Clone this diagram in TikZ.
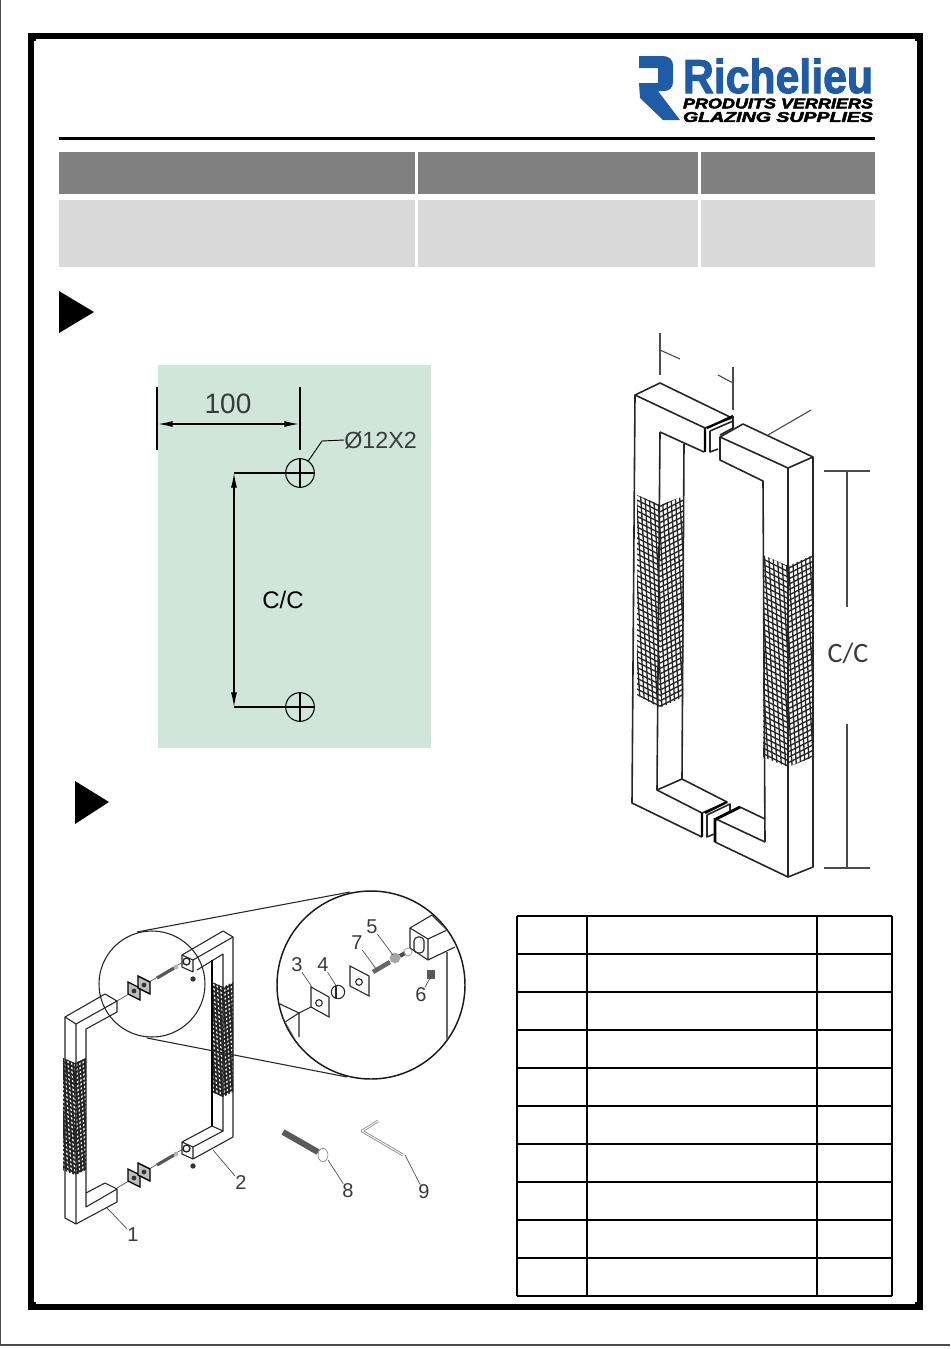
\documentclass[tikz,border=0pt]{standalone}
\usepackage{fontspec}
\setmainfont{Liberation Sans}
\newfontfamily\carlitofont{Carlito}
\newfontfamily\logofont[FakeBold=2.2]{Liberation Sans Bold}
\newfontfamily\logotagfont[FakeBold=3]{Liberation Sans Bold Italic}
\usetikzlibrary{arrows.meta}

\definecolor{headgray}{HTML}{808080}
\definecolor{cellgray}{HTML}{D9D9D9}
\definecolor{platecolor}{HTML}{CFE6D8}
\definecolor{logoblue}{HTML}{1F5CA8}
\definecolor{labelgray}{HTML}{3A3A3A}

\tikzset{
  frameline/.style={line width=3.8pt},
  dimline/.style={line width=0.85pt,black!70},
  cad/.style={line width=1.2pt,black!85,line join=round},
  thin cad/.style={line width=0.8pt,black!85,line join=round},
  leader/.style={line width=0.5pt,black!70},
  numlabel/.style={inner sep=0pt,text=labelgray,font=\fontsize{15}{17}\selectfont},
  dimarrow/.style={line width=0.9pt,{Latex[length=11pt,width=4.5pt]}-{Latex[length=11pt,width=4.5pt]}},
  holemark/.style={draw,circle,line width=0.8pt,minimum size=21.5pt,inner sep=0pt},
}

% brick mesh on one grip face: #1 outline, #2-#5 box, #6 spacing, #7 line width, #8 slope
\newcommand{\gripmesh}[8]{
  \begin{scope}
  \clip #1;
  \fill[white] (#2,#4) rectangle (#3,#5);
  \pgfmathsetmacro{\mstart}{#4-0.5*(#3-#2)}
  \pgfmathsetmacro{\mnext}{\mstart+#6}
  \pgfmathsetmacro{\mstop}{#5+0.5*(#3-#2)}
  \foreach \yy in {\mstart,\mnext,...,\mstop}
    \draw[black!85,line width=#7] (#2,\yy) -- ++({#3-#2},{#8*(#3-#2)});
  \pgfmathsetmacro{\mstart}{#2-0.06*(#5-#4)}
  \pgfmathsetmacro{\mnext}{\mstart+0.8*#6}
  \foreach \xx in {\mstart,\mnext,...,#3}
    \draw[black!85,line width=#7] (\xx,#4) -- ++({0.06*(#5-#4)},{#5-#4});
  \end{scope}
}

\begin{document}
\begin{tikzpicture}[x=0.75pt,y=-0.75pt]
\useasboundingbox (0,0) rectangle (950,1349);
\fill[white] (0,0) rectangle (950,1349);

% frame
\draw[line width=0.8pt,black!70] (0.5,0) -- (0.5,1345) -- (950,1345);
\draw[frameline] (31,36) rectangle (920,1307);
\fill (28,33) rectangle (36,41);
\fill (915,33) rectangle (923,41);
\fill (28,1302) rectangle (36,1310);
\fill (915,1302) rectangle (923,1310);

% logo
\fill[logoblue] (639,56) -- (663,56) .. controls (669,56) and (673,60) .. (673,65)
  -- (673,82) .. controls (673,88) and (669,91) .. (664,91) -- (658,91)
  -- (680,120) -- (663,120) -- (640,98) -- (639,83) -- (658,83) -- (658,68) -- (639,68) -- cycle;
\node[inner sep=0pt,text=logoblue] (logoname) at (778,76)
  {\resizebox{142.5pt}{26pt}{\logofont Richelieu}};
\node[inner sep=0pt] (logofr) at (778,103.5)
  {\resizebox{142.5pt}{7.4pt}{\logotagfont PRODUITS VERRIERS}};
\node[inner sep=0pt] (logoen) at (778,117)
  {\resizebox{142.5pt}{7.4pt}{\logotagfont GLAZING SUPPLIES}};

% header table
\draw[line width=2.4pt] (59,138.5) -- (875,138.5);
\fill[headgray] (59,152) rectangle (415,194);
\fill[headgray] (418,152) rectangle (698,194);
\fill[headgray] (701,152) rectangle (875,194);
\fill[cellgray] (59,200) rectangle (415,267);
\fill[cellgray] (418,200) rectangle (698,267);
\fill[cellgray] (701,200) rectangle (875,267);

% section marks
\fill (59,291) -- (94,312) -- (59,333) -- cycle;
\fill (75,781) -- (109,802) -- (75,824) -- cycle;

% drilling plan
\fill[platecolor] (158,365) rectangle (431,748);
\draw[line width=1.1pt] (157,387) -- (157,450);
\draw[line width=1.1pt] (300,387) -- (300,450);
\draw[dimarrow] (158,424) -- (299,424);
\node[inner sep=0pt,font=\fontsize{21}{23}\selectfont,text=labelgray] (widthlabel) at (228,404) {100};
\node[holemark] (holetop) at (300,473) {};
\node[holemark] (holebot) at (300,707) {};
\draw[line width=0.8pt] (holetop.west) -- (holetop.east) (holetop.north) -- (holetop.south);
\draw[line width=0.8pt] (holebot.west) -- (holebot.east) (holebot.north) -- (holebot.south);
\coordinate (ccstart) at (234,473);
\coordinate (ccend) at (234,707);
\draw[line width=1pt] (ccstart) -- (holetop.west);
\draw[line width=1pt] (ccend) -- (holebot.west);
\draw[dimarrow] (ccstart) -- (ccend);
\node[inner sep=0pt,font=\fontsize{18}{20}\selectfont] (cclabel) at (283,600) {C/C};
\node[inner sep=0pt,anchor=west,font=\fontsize{17.5}{19}\selectfont,text=labelgray] (holelabel) at (344,440) {Ø12X2};
\draw[line width=0.7pt] (holetop) -- (322,441) -- (holelabel.west);

% big handle, grips first
\gripmesh{(637,495) -- (660,505) -- (660,708) -- (637,695) -- cycle}{632}{660}{490}{712}{5.4}{1pt}{0.5}
\gripmesh{(660,505) -- (684,496) -- (683,697) -- (660,708) -- cycle}{658}{688}{490}{712}{5.4}{1pt}{-0.5}
\gripmesh{(763,555) -- (788,566) -- (788,767) -- (763,757) -- cycle}{760}{788}{550}{770}{5.4}{1pt}{0.5}
\gripmesh{(788,566) -- (813,555) -- (813,757) -- (788,767) -- cycle}{788}{816}{550}{770}{5.4}{1pt}{-0.5}

% big handle, left bar
\draw[cad] (635,395) -- (660,383) -- (732,418) -- (705,428) -- cycle;
\draw[cad] (635,395) -- (632,803) -- (702,837);
\draw[cad] (660,432) -- (657,790) -- (702,813);
\draw[cad] (684,444) -- (682,779) -- (727,802) -- (702,813);
\draw[cad] (660,432) -- (704,452);
\draw[cad] (657,790) -- (682,779);
\draw[line width=1.7pt] (705,428) -- (705,452) (707,428) -- (733,416);
\draw[cad] (710,431) -- (733,421);
\draw[cad] (710,431) -- (710,452) -- (718,449);
\draw[cad] (733,416) -- (733,428) -- (720,435);
% big handle, right bar
\draw[cad] (720,437) -- (743,424) -- (813,457) -- (788,468) -- cycle;
\draw[cad] (720,437) -- (720,460) -- (763,481) -- (765,842);
\draw[cad] (788,468) -- (788,877) -- (813,867) -- (813,457);
\draw[cad] (715,842) -- (788,877);
\draw[cad] (716,819) -- (765,842);
\draw[cad] (740,807) -- (765,819);
\draw[line width=2.2pt] (715,818) -- (715,842) (716,819) -- (740,807);
% bottom ends of the left bar
\draw[line width=1.7pt] (702,813) -- (702,837) (705,813) -- (727,802);
\draw[cad] (707,815) -- (730,804) -- (730,811) (707,815) -- (707,837) -- (714,834);

% dimensions at the big handle
\draw[dimline] (660,333) -- (660,375);
\draw[dimline] (660,350) -- (680,359);
\draw[dimline] (733,367) -- (733,410);
\draw[dimline] (718,375) -- (733,383);
\draw[dimline] (768,435) -- (811,410);
\draw[dimline] (824,471) -- (870,471);
\draw[dimline] (847,471) -- (847,607);
\draw[dimline] (847,724) -- (847,868);
\draw[dimline] (824,868) -- (870,868);
\node[inner sep=0pt,font=\carlitofont\fontsize{21}{23}\selectfont,text=labelgray] (cclabeltwo) at (848,653) {C/C};

% small handle, grips
\gripmesh{(63,1058) -- (75,1063) -- (75,1175) -- (63,1170) -- cycle}{60}{75}{1055}{1178}{4.2}{1.4pt}{0.5}
\gripmesh{(75,1063) -- (86,1058) -- (86,1170) -- (75,1175) -- cycle}{75}{90}{1055}{1178}{4.2}{1.4pt}{-0.5}
\gripmesh{(212,982) -- (223,987) -- (223,1097) -- (212,1092) -- cycle}{209}{223}{979}{1100}{4.2}{1.4pt}{0.5}
\gripmesh{(223,987) -- (233,982) -- (233,1092) -- (223,1097) -- cycle}{223}{236}{979}{1100}{4.2}{1.4pt}{-0.5}

% small handle, left bar
\draw[thin cad] (65,1017) -- (105,994) -- (117,1001) -- (76,1024) -- cycle;
\draw[thin cad] (65,1017) -- (65,1218) -- (76,1224) -- (76,1024);
\draw[thin cad] (117,1001) -- (117,1012) -- (86,1029) -- (86,1207) -- (117,1189);
\draw[thin cad] (86,1193) -- (105,1183) -- (117,1189) -- (117,1202) -- (76,1224);
% small handle, right bar
\draw[thin cad] (182,955) -- (223,931) -- (233,937) -- (193,960) -- cycle;
\draw[thin cad] (182,955) -- (182,967) -- (193,972) -- (193,960);
\draw[thin cad] (197,970) -- (223,954) -- (223,1131);
\draw[line width=1.1pt] (212,960) -- (212,1126);
\draw[thin cad] (233,937) -- (233,1137) -- (193,1159) -- (182,1154) -- (182,1142) -- (212,1126) -- (223,1131) -- (193,1147) -- (193,1159);
\draw[thin cad] (182,1142) -- (193,1147);

% fixing parts of the small handle, top and bottom set
\foreach \dy in {0,187}{
  \begin{scope}[shift={(0,\dy)}]
  \draw[leader] (117,1001) -- (183,962);
  \filldraw[fill=black!25,draw=black,line width=0.9pt] (128,982) -- (140,988) -- (140,1000) -- (128,994) -- cycle;
  \fill[black!80] (134,991) circle (1.8pt);
  \filldraw[fill=black!25,draw=black,line width=1.1pt] (138,976) -- (150,982) -- (150,994) -- (138,988) -- cycle;
  \fill[black!80] (144,985) circle (1.8pt);
  \draw[line width=2.4pt,black!65] (157,978) -- (174,968);
  \fill[black!30] (176,967) circle (1.8pt);
  \fill[black!80] (193,979) circle (2pt);
  \draw[line width=1pt,black!85] (186.5,961.5) circle (2.6pt);
  \end{scope}
}

% magnifier
\draw[line width=0.8pt,black!85] (137,932) -- (350,892);
\draw[line width=0.8pt,black!85] (147,1038) -- (347,1077);
\draw[line width=0.8pt,black!85] (152,984) circle [radius=53];
\draw[line width=1.1pt,black!90,fill=white] (371,985) circle [radius=94];

% parts in the magnifier
\begin{scope}
\clip (371,985) circle [radius=93];
\draw[thin cad] (278,1003) -- (299,1013) -- (299,1037);
\draw[thin cad] (285,1022) -- (299,1013) -- (311,1007);
\draw[thin cad] (278,1012) -- (285,1022) -- (295,1040);
\draw[thin cad] (410,928) -- (432,915) -- (447,930) -- (428,939) -- cycle;
\draw[thin cad] (410,928) -- (410,948) -- (428,960) -- (428,939);
\draw[thin cad] (428,960) -- (455,947);
\draw[thin cad] (447,930) -- (470,918);
\draw[line width=0.9pt,black!60] (447,952) -- (447,1050);
\end{scope}
\draw[thin cad,rounded corners=3pt] (414,937) rectangle (424,953);
\filldraw[fill=white,draw=black!85,line width=0.8pt] (311,987) -- (329,997) -- (329,1017) -- (311,1007) -- cycle;
\draw[thin cad] (319,1003) circle (2.5pt);
\draw[thin cad,fill=white] (338,992) circle (5pt);
\draw[thin cad] (336,986) -- (336,998);
\filldraw[fill=white,draw=black!85,line width=0.8pt] (350,966) -- (369,976) -- (369,996) -- (350,986) -- cycle;
\draw[thin cad] (359,982) circle (2.5pt);
\draw[line width=3.4pt,black!60] (373,972) -- (390,962);
\fill[black!35] (395,958) circle (4pt);
\draw[line width=3pt,black!70] (400,956) -- (405,953);
\draw[line width=0.5pt,black!40] (408,952) circle (3pt);
\fill[black!65] (427,970) rectangle (435,979);

% loose screw and key
\draw[line width=4.5pt,black!65] (283,1132) -- (318,1152);
\draw[line width=0.5pt,black!45,fill=white] (323,1155) ellipse (3.7pt and 5pt);
\draw[line width=2pt,black!45,line join=round] (378,1121) -- (362,1131) -- (403,1155);
\draw[line width=0.7pt,white,line join=round] (378,1121) -- (362,1131) -- (403,1155);

% item numbers
\foreach \num/\lx/\ly/\ex/\ey in {1/133/1235/107/1208,2/241/1183/213/1150,3/297/965/312/987,
    4/323/965/337/987,5/372/927/393/955,6/421/995/430/978,7/357/943/377/970,8/348/1191/328/1160,9/424/1192/405/1155}{
  \node[numlabel] (item\num) at (\lx,\ly) {\num};
  \coordinate (tip\num) at (\ex,\ey);
  \draw[leader] (item\num) -- (tip\num);
}

% parts table
\foreach \ry in {916,954,...,1296}
  \draw[line width=1.5pt] (517,\ry) -- (892,\ry);
\foreach \cx in {517,587,817,892}
  \draw[line width=1.5pt] (\cx,916) -- (\cx,1296);

\end{tikzpicture}
\end{document}
